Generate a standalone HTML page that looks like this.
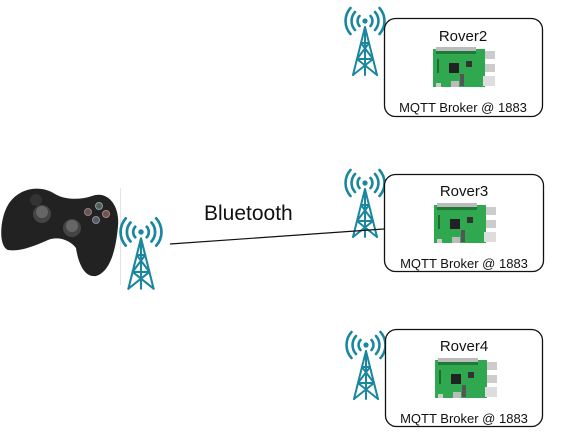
<!DOCTYPE html>
<html><head><meta charset="utf-8"><style>
html,body{margin:0;padding:0;background:#fff;width:571px;height:443px;overflow:hidden}
svg{display:block}
text{font-family:"Liberation Sans",Arial,sans-serif}
</style></head><body>
<svg width="571" height="443" viewBox="0 0 571 443" xmlns="http://www.w3.org/2000/svg">
<defs>
<g id="ant" fill="none" stroke="#1a86a0" stroke-width="2.6" stroke-linecap="round">
  <circle cx="0" cy="0" r="2.6" fill="#1a86a0" stroke="none"/>
  <path d="M-5.5,-5 A7.5,7.5 0 0 0 -5.5,5 M5.5,-5 A7.5,7.5 0 0 1 5.5,5"/>
  <path d="M-10,-9 A13.5,13.5 0 0 0 -10,9 M10,-9 A13.5,13.5 0 0 1 10,9"/>
  <path d="M-14.5,-13 A19.5,19.5 0 0 0 -14.5,13 M14.5,-13 A19.5,19.5 0 0 1 14.5,13"/>
  <g stroke-width="2">
  <path d="M0,6 L-12,54 M0,6 L12,54 M0,6 L0,54"/>
  <path d="M-4,22 L4,22 M-4,22 L8,38 M4,22 L-8,38 M-8,38 L8,38 M-8,38 L12,54 M8,38 L-12,54"/>
  </g>
</g>
<g id="pi">
  <rect x="0" y="2" width="52" height="38" fill="#2fa84f"/>
  <rect x="3" y="0" width="40" height="5" fill="#bbb"/>
  <rect x="3" y="4" width="40" height="3" fill="#1e7a36"/>
  <rect x="52" y="4" width="10" height="8" fill="#ccc"/>
  <rect x="52" y="17" width="10" height="8" fill="#ccc"/>
  <rect x="50" y="29" width="12" height="10" fill="#ddd"/>
  <rect x="16" y="16" width="10" height="10" fill="#222"/>
  <rect x="33" y="14" width="6" height="6" fill="#333"/>
  <rect x="27" y="27" width="4" height="12" fill="#555"/>
  <rect x="18" y="34" width="8" height="6" fill="#bbb"/>
  <rect x="3" y="36" width="5" height="4" fill="#ccc"/>
  <rect x="4" y="12" width="2" height="14" fill="#1e6b30"/>
</g>
</defs>

<line x1="120.5" y1="188" x2="120.5" y2="285" stroke="#e4e4e4" stroke-width="1"/>
<g fill="#222">
  <path d="M8,205 C18,188 40,184 55,194 C65,200 80,200 92,196 C108,190 120,206 118,226 C116,250 110,272 96,276 C84,278 78,262 76,248 C70,240 58,236 48,240 C34,246 20,252 8,250 C-2,246 0,218 8,205 Z"/>
</g>
<circle cx="36" cy="200" r="6" fill="#333"/>
<circle cx="42" cy="214" r="9" fill="#444"/>
<circle cx="42" cy="212" r="6" fill="#666"/>
<circle cx="72" cy="228" r="9" fill="#444"/>
<circle cx="72" cy="226" r="6" fill="#666"/>
<circle cx="88" cy="212" r="3.5" fill="#5a5a5a" stroke="#a77" stroke-width="1"/>
<circle cx="99" cy="206" r="3.5" fill="#5a5a5a" stroke="#7a9" stroke-width="1"/>
<circle cx="106" cy="214" r="3.5" fill="#5a5a5a" stroke="#c77" stroke-width="1"/>
<circle cx="96" cy="220" r="3.5" fill="#5a5a5a" stroke="#88a" stroke-width="1"/>

<use href="#ant" x="141" y="232" transform="translate(141,232) scale(1.05) translate(-141,-232)"/>
<use href="#ant" x="365" y="21"/>
<use href="#ant" x="365" y="183"/>
<use href="#ant" x="366" y="345"/>

<line x1="170" y1="244" x2="384" y2="229" stroke="#111" stroke-width="1.2"/>
<text x="204" y="220" font-size="21" fill="#111">Bluetooth</text>

<g fill="#fff" stroke="#111" stroke-width="1.3">
  <rect x="384.5" y="18.5" width="158" height="98" rx="11"/>
  <rect x="384.5" y="174.5" width="159" height="97" rx="11"/>
  <rect x="385.5" y="329.5" width="157" height="97" rx="11"/>
</g>
<g font-size="15" fill="#111" text-anchor="middle">
  <text x="463" y="41">Rover2</text>
  <text x="464" y="196">Rover3</text>
  <text x="464" y="351">Rover4</text>
</g>
<use href="#pi" x="433" y="47"/>
<use href="#pi" x="434" y="203"/>
<use href="#pi" x="435" y="358"/>
<g font-size="13" fill="#111" text-anchor="middle">
  <text x="463" y="112">MQTT Broker @ 1883</text>
  <text x="464" y="268">MQTT Broker @ 1883</text>
  <text x="464" y="423">MQTT Broker @ 1883</text>
</g>
</svg>
</body></html>
